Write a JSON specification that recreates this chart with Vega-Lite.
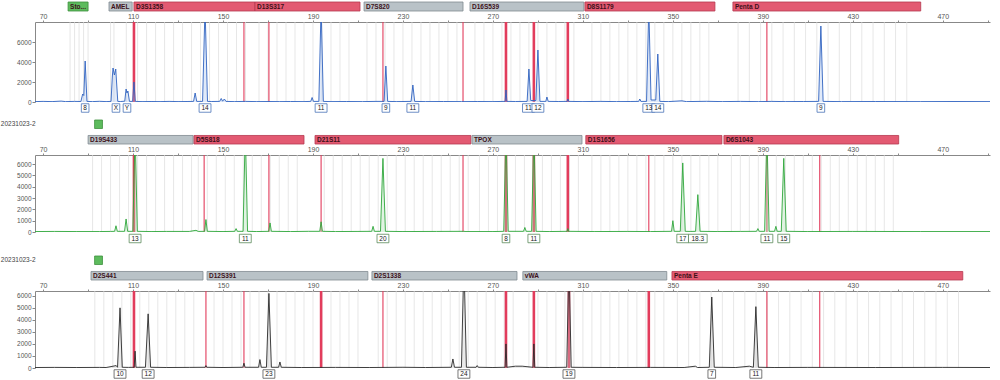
{
"$schema":"https://vega.github.io/schema/vega-lite/v6.json",
"background":"white",
"padding":{"left":0,"top":1,"right":4,"bottom":0},
"config":{"view":{"stroke":null},"font":"Liberation Sans"},
"datasets":{
"loci":[
{"p":1,"row":"l","kind":"green","name":"Sto...","start":81.1,"end":90.0},
{"p":1,"row":"l","kind":"grey","name":"AMEL","start":99.3,"end":109.6},
{"p":1,"row":"l","kind":"red","name":"D3S1358","start":110.4,"end":164.2},
{"p":1,"row":"l","kind":"red","name":"D13S317","start":164.2,"end":210.9},
{"p":1,"row":"l","kind":"grey","name":"D7S820","start":212.7,"end":256.7},
{"p":1,"row":"l","kind":"grey","name":"D16S539","start":259.8,"end":310.4},
{"p":1,"row":"l","kind":"red","name":"D8S1179","start":310.9,"end":368.7},
{"p":1,"row":"l","kind":"red","name":"Penta D","start":376.7,"end":460.2},
{"p":2,"row":"s","kind":"green","name":"","start":92.9,"end":96.4},
{"p":2,"row":"l","kind":"grey","name":"D19S433","start":90.0,"end":136.7},
{"p":2,"row":"l","kind":"red","name":"D5S818","start":137.1,"end":186.0},
{"p":2,"row":"l","kind":"red","name":"D21S11","start":190.9,"end":260.2},
{"p":2,"row":"l","kind":"grey","name":"TPOX","start":260.7,"end":309.6},
{"p":2,"row":"l","kind":"red","name":"D1S1656","start":311.3,"end":371.8},
{"p":2,"row":"l","kind":"red","name":"D6S1043","start":372.7,"end":450.4},
{"p":3,"row":"s","kind":"green","name":"","start":92.9,"end":96.4},
{"p":3,"row":"l","kind":"grey","name":"D2S441","start":91.3,"end":141.1},
{"p":3,"row":"l","kind":"grey","name":"D12S391","start":142.9,"end":214.4},
{"p":3,"row":"l","kind":"grey","name":"D2S1338","start":216.2,"end":280.7},
{"p":3,"row":"l","kind":"grey","name":"vWA","start":283.3,"end":347.3},
{"p":3,"row":"l","kind":"red","name":"Penta E","start":349.6,"end":478.9}
],
"samples":[
{"p":2,"row":"s","x":51.2,"t":"20231023-2"},
{"p":3,"row":"s","x":51.2,"t":"20231023-2"}
],
"red":[
{"p":1,"x":110.4,"k":"thick"},{"p":1,"x":275.8,"k":"thick"},{"p":1,"x":288.2,"k":"thick"},{"p":1,"x":303.3,"k":"thick"},
{"p":1,"x":159.3,"k":"thin"},{"p":1,"x":170.4,"k":"thin"},{"p":1,"x":221.1,"k":"thin"},{"p":1,"x":256.7,"k":"thin"},{"p":1,"x":391.8,"k":"thin"},
{"p":2,"x":110.4,"k":"thick"},{"p":2,"x":275.8,"k":"thick"},{"p":2,"x":288.2,"k":"thick"},{"p":2,"x":303.3,"k":"thick"},
{"p":2,"x":141.6,"k":"thin"},{"p":2,"x":170.4,"k":"thin"},{"p":2,"x":193.6,"k":"thin"},{"p":2,"x":256.7,"k":"thin"},{"p":2,"x":339.3,"k":"thin"},{"p":2,"x":391.8,"k":"thin"},{"p":2,"x":415.3,"k":"thin"},
{"p":3,"x":110.4,"k":"thick"},{"p":3,"x":193.6,"k":"thick"},{"p":3,"x":275.8,"k":"thick"},{"p":3,"x":288.2,"k":"thick"},{"p":3,"x":303.8,"k":"thick"},{"p":3,"x":339.3,"k":"thick"},
{"p":3,"x":142.4,"k":"thin"},{"p":3,"x":159.3,"k":"thin"},{"p":3,"x":221.1,"k":"thin"},{"p":3,"x":391.8,"k":"thin"},{"p":3,"x":415.3,"k":"thin"}
],
"bins":[
{"p":1,"x":82},{"p":1,"x":84},{"p":1,"x":86},{"p":1,"x":88},{"p":1,"x":90},{"p":1,"x":100},{"p":1,"x":101.5},{"p":1,"x":107},
{"p":1,"x":112},{"p":1,"x":116},{"p":1,"x":120},{"p":1,"x":124},{"p":1,"x":128},{"p":1,"x":132},{"p":1,"x":136},{"p":1,"x":140},{"p":1,"x":144},{"p":1,"x":148},{"p":1,"x":152},{"p":1,"x":156},{"p":1,"x":160},
{"p":1,"x":166},{"p":1,"x":170},{"p":1,"x":174},{"p":1,"x":178},{"p":1,"x":182},{"p":1,"x":186},{"p":1,"x":190},{"p":1,"x":194},{"p":1,"x":198},{"p":1,"x":202},{"p":1,"x":206},
{"p":1,"x":214},{"p":1,"x":218},{"p":1,"x":222},{"p":1,"x":226},{"p":1,"x":230},{"p":1,"x":234},{"p":1,"x":238},{"p":1,"x":242},{"p":1,"x":246},{"p":1,"x":250},{"p":1,"x":254},
{"p":1,"x":262},{"p":1,"x":266},{"p":1,"x":270},{"p":1,"x":274},{"p":1,"x":278},{"p":1,"x":282},{"p":1,"x":286},{"p":1,"x":290},{"p":1,"x":294},{"p":1,"x":298},{"p":1,"x":302},{"p":1,"x":306},
{"p":1,"x":314},{"p":1,"x":318},{"p":1,"x":322},{"p":1,"x":326},{"p":1,"x":330},{"p":1,"x":334},{"p":1,"x":338},{"p":1,"x":342},{"p":1,"x":346},{"p":1,"x":350},{"p":1,"x":354},{"p":1,"x":358},{"p":1,"x":362},{"p":1,"x":366},
{"p":1,"x":379},{"p":1,"x":384},{"p":1,"x":389},{"p":1,"x":394},{"p":1,"x":399},{"p":1,"x":404},{"p":1,"x":409},{"p":1,"x":414},{"p":1,"x":419},{"p":1,"x":424},{"p":1,"x":429},{"p":1,"x":434},{"p":1,"x":439},{"p":1,"x":444},{"p":1,"x":449},{"p":1,"x":454},
{"p":2,"x":92},{"p":2,"x":96},{"p":2,"x":100},{"p":2,"x":104},{"p":2,"x":108},{"p":2,"x":112},{"p":2,"x":116},{"p":2,"x":120},{"p":2,"x":124},{"p":2,"x":128},{"p":2,"x":132},{"p":2,"x":136},
{"p":2,"x":139},{"p":2,"x":143},{"p":2,"x":147},{"p":2,"x":151},{"p":2,"x":155},{"p":2,"x":159},{"p":2,"x":163},{"p":2,"x":167},{"p":2,"x":171},{"p":2,"x":175},{"p":2,"x":179},{"p":2,"x":183},
{"p":2,"x":195},{"p":2,"x":199},{"p":2,"x":203},{"p":2,"x":207},{"p":2,"x":211},{"p":2,"x":215},{"p":2,"x":219},{"p":2,"x":223},{"p":2,"x":227},{"p":2,"x":231},{"p":2,"x":235},{"p":2,"x":239},{"p":2,"x":243},{"p":2,"x":247},{"p":2,"x":251},{"p":2,"x":255},{"p":2,"x":259},
{"p":2,"x":264},{"p":2,"x":268},{"p":2,"x":272},{"p":2,"x":276},{"p":2,"x":280},{"p":2,"x":284},{"p":2,"x":288},{"p":2,"x":292},{"p":2,"x":296},{"p":2,"x":300},{"p":2,"x":304},{"p":2,"x":308},
{"p":2,"x":314},{"p":2,"x":318},{"p":2,"x":322},{"p":2,"x":326},{"p":2,"x":330},{"p":2,"x":334},{"p":2,"x":338},{"p":2,"x":342},{"p":2,"x":346},{"p":2,"x":350},{"p":2,"x":354},{"p":2,"x":358},{"p":2,"x":362},{"p":2,"x":366},{"p":2,"x":370},
{"p":2,"x":376},{"p":2,"x":380},{"p":2,"x":384},{"p":2,"x":388},{"p":2,"x":392},{"p":2,"x":396},{"p":2,"x":400},{"p":2,"x":404},{"p":2,"x":408},{"p":2,"x":412},{"p":2,"x":416},{"p":2,"x":420},{"p":2,"x":424},{"p":2,"x":428},{"p":2,"x":432},{"p":2,"x":436},{"p":2,"x":440},{"p":2,"x":444},{"p":2,"x":448},
{"p":3,"x":93},{"p":3,"x":97},{"p":3,"x":101},{"p":3,"x":105},{"p":3,"x":109},{"p":3,"x":113},{"p":3,"x":117},{"p":3,"x":121},{"p":3,"x":125},{"p":3,"x":129},{"p":3,"x":133},{"p":3,"x":137},
{"p":3,"x":146},{"p":3,"x":150},{"p":3,"x":154},{"p":3,"x":158},{"p":3,"x":162},{"p":3,"x":166},{"p":3,"x":170},{"p":3,"x":174},{"p":3,"x":178},{"p":3,"x":182},{"p":3,"x":186},{"p":3,"x":190},{"p":3,"x":194},{"p":3,"x":198},{"p":3,"x":202},{"p":3,"x":206},{"p":3,"x":210},
{"p":3,"x":219},{"p":3,"x":223},{"p":3,"x":227},{"p":3,"x":231},{"p":3,"x":235},{"p":3,"x":239},{"p":3,"x":243},{"p":3,"x":247},{"p":3,"x":251},{"p":3,"x":255},{"p":3,"x":259},{"p":3,"x":263},{"p":3,"x":267},{"p":3,"x":271},{"p":3,"x":275},{"p":3,"x":279},
{"p":3,"x":286},{"p":3,"x":290},{"p":3,"x":294},{"p":3,"x":298},{"p":3,"x":302},{"p":3,"x":306},{"p":3,"x":310},{"p":3,"x":314},{"p":3,"x":318},{"p":3,"x":322},{"p":3,"x":326},{"p":3,"x":330},{"p":3,"x":334},{"p":3,"x":338},{"p":3,"x":342},{"p":3,"x":346},
{"p":3,"x":352},{"p":3,"x":357},{"p":3,"x":362},{"p":3,"x":367},{"p":3,"x":372},{"p":3,"x":377},{"p":3,"x":382},{"p":3,"x":387},{"p":3,"x":392},{"p":3,"x":397},{"p":3,"x":402},{"p":3,"x":407},{"p":3,"x":412},{"p":3,"x":417},{"p":3,"x":422},{"p":3,"x":427},{"p":3,"x":432},{"p":3,"x":437},{"p":3,"x":442},{"p":3,"x":447},{"p":3,"x":452},{"p":3,"x":457},{"p":3,"x":462},{"p":3,"x":467},{"p":3,"x":472},{"p":3,"x":477}
],
"t1":[
{"x":66.4,"y":40},{"x":70,"y":60},{"x":74,"y":40},{"x":78,"y":90},{"x":80,"y":40},{"x":84,"y":60},{"x":86.8,"y":50},{"x":87.6,"y":800},{"x":88.1,"y":650},{"x":88.7,"y":4100},{"x":89.5,"y":60},{"x":92,"y":40},{"x":95,"y":70},{"x":98,"y":40},
{"x":100.2,"y":60},{"x":100.8,"y":2600},{"x":101.1,"y":3400},{"x":101.7,"y":2700},{"x":102.3,"y":3300},{"x":103.2,"y":60},{"x":104.5,"y":50},{"x":106.3,"y":80},{"x":106.9,"y":1300},{"x":107.3,"y":900},{"x":107.7,"y":1100},{"x":108.4,"y":60},
{"x":109.8,"y":60},{"x":110.4,"y":2000},{"x":111.0,"y":60},{"x":114,"y":40},{"x":118,"y":50},{"x":122,"y":40},{"x":126,"y":60},{"x":130,"y":40},{"x":134,"y":50},{"x":136.9,"y":60},{"x":137.6,"y":900},{"x":138.3,"y":60},
{"x":140.9,"y":60},{"x":142.0,"y":9500},{"x":143.1,"y":60},{"x":145,"y":50},{"x":148.5,"y":60},{"x":149.2,"y":350},{"x":149.8,"y":80},{"x":150.6,"y":300},{"x":151.3,"y":60},{"x":155,"y":40},{"x":160,"y":60},{"x":165,"y":40},{"x":170,"y":50},{"x":175,"y":40},{"x":180,"y":50},{"x":186,"y":40},
{"x":189,"y":60},{"x":189.6,"y":450},{"x":190.2,"y":60},{"x":192.6,"y":60},{"x":193.6,"y":9500},{"x":194.6,"y":60},{"x":198,"y":40},{"x":205,"y":50},{"x":212,"y":40},{"x":218,"y":60},
{"x":221.6,"y":60},{"x":222.4,"y":3600},{"x":223.2,"y":60},{"x":227,"y":40},{"x":233.6,"y":60},{"x":234.4,"y":1700},{"x":235.2,"y":60},{"x":240,"y":40},{"x":248,"y":50},{"x":256,"y":40},{"x":263,"y":50},{"x":270,"y":40},
{"x":275.4,"y":60},{"x":275.8,"y":1200},{"x":276.2,"y":60},{"x":280,"y":50},{"x":285.2,"y":60},{"x":286.0,"y":3300},{"x":286.8,"y":150},{"x":289.1,"y":150},{"x":290.0,"y":5200},{"x":290.9,"y":60},{"x":293.5,"y":60},{"x":294.0,"y":500},{"x":294.6,"y":60},
{"x":299,"y":50},{"x":303.0,"y":60},{"x":303.3,"y":300},{"x":303.7,"y":60},{"x":310,"y":40},{"x":318,"y":60},{"x":325,"y":40},{"x":331,"y":50},{"x":334.8,"y":60},{"x":335.3,"y":300},{"x":335.8,"y":60},
{"x":338.3,"y":60},{"x":339.3,"y":9500},{"x":340.3,"y":200},{"x":342.4,"y":200},{"x":343.3,"y":4800},{"x":344.2,"y":60},{"x":348,"y":40},{"x":354,"y":120},{"x":356,"y":40},{"x":365,"y":70},{"x":372,"y":40},{"x":380,"y":60},{"x":388,"y":40},{"x":394,"y":60},{"x":400,"y":40},{"x":408,"y":50},
{"x":414.8,"y":60},{"x":415.8,"y":7600},{"x":416.8,"y":60},{"x":425,"y":40},{"x":440,"y":50},{"x":460,"y":40},{"x":475,"y":50},{"x":491,"y":40}
],
"t2":[
{"x":66.4,"y":40},{"x":75,"y":50},{"x":85,"y":40},{"x":95,"y":40},{"x":100,"y":50},{"x":101.8,"y":60},{"x":102.4,"y":550},{"x":103.0,"y":60},{"x":106.2,"y":60},{"x":106.9,"y":1150},{"x":107.6,"y":60},
{"x":109.9,"y":60},{"x":110.9,"y":9000},{"x":111.9,"y":60},{"x":118,"y":40},{"x":125,"y":50},{"x":135,"y":50},{"x":138,"y":150},{"x":139,"y":50},{"x":141.8,"y":60},{"x":142.4,"y":1100},{"x":143.0,"y":60},
{"x":150,"y":40},{"x":155.2,"y":60},{"x":155.8,"y":300},{"x":156.4,"y":60},{"x":158.9,"y":60},{"x":159.9,"y":9000},{"x":160.9,"y":60},{"x":165,"y":40},{"x":170.3,"y":60},{"x":170.9,"y":800},{"x":171.5,"y":60},
{"x":180,"y":40},{"x":188,"y":60},{"x":193.0,"y":60},{"x":193.6,"y":900},{"x":194.2,"y":60},{"x":200,"y":40},{"x":210,"y":50},{"x":216.1,"y":60},{"x":216.7,"y":500},{"x":217.3,"y":60},{"x":220.0,"y":60},{"x":221.1,"y":6500},{"x":222.2,"y":60},
{"x":230,"y":40},{"x":245,"y":50},{"x":257,"y":60},{"x":258,"y":40},{"x":270,"y":40},{"x":274.8,"y":60},{"x":275.8,"y":9000},{"x":276.8,"y":60},{"x":283.6,"y":60},{"x":284.2,"y":400},{"x":284.8,"y":60},
{"x":287.2,"y":60},{"x":288.2,"y":9000},{"x":289.2,"y":60},{"x":295,"y":40},{"x":303,"y":60},{"x":303.3,"y":300},{"x":303.6,"y":60},{"x":315,"y":40},{"x":330,"y":50},{"x":340,"y":40},
{"x":349.4,"y":60},{"x":350.0,"y":1000},{"x":350.6,"y":60},{"x":353.3,"y":60},{"x":354.4,"y":6100},{"x":355.5,"y":60},{"x":358,"y":50},{"x":360.1,"y":60},{"x":361.1,"y":3300},{"x":362.1,"y":60},
{"x":370,"y":40},{"x":380,"y":50},{"x":387.2,"y":60},{"x":387.8,"y":300},{"x":388.4,"y":60},{"x":390.8,"y":60},{"x":391.8,"y":9000},{"x":392.8,"y":60},{"x":395.2,"y":60},{"x":395.8,"y":500},{"x":396.4,"y":60},
{"x":398.2,"y":60},{"x":399.3,"y":6500},{"x":400.4,"y":60},{"x":410,"y":40},{"x":430,"y":50},{"x":460,"y":40},{"x":491,"y":40}
],
"t3":[
{"x":66.4,"y":40},{"x":75,"y":50},{"x":85,"y":40},{"x":95,"y":50},{"x":98,"y":40},{"x":102.5,"y":200},{"x":103.1,"y":60},{"x":104.2,"y":5000},{"x":105.2,"y":60},{"x":108,"y":50},
{"x":110.5,"y":60},{"x":110.9,"y":1400},{"x":111.3,"y":60},{"x":115.5,"y":60},{"x":116.7,"y":4500},{"x":117.8,"y":60},{"x":125,"y":40},{"x":135,"y":50},{"x":142.0,"y":60},{"x":142.4,"y":200},{"x":142.8,"y":60},
{"x":150,"y":40},{"x":158.8,"y":60},{"x":159.3,"y":400},{"x":159.8,"y":60},{"x":165.8,"y":60},{"x":166.4,"y":700},{"x":167.0,"y":60},{"x":169.3,"y":60},{"x":170.4,"y":6200},{"x":171.5,"y":60},{"x":174.7,"y":60},{"x":175.3,"y":500},{"x":175.9,"y":60},
{"x":185,"y":40},{"x":200,"y":50},{"x":215,"y":40},{"x":230,"y":60},{"x":240,"y":40},{"x":251.5,"y":60},{"x":252.2,"y":750},{"x":252.9,"y":60},{"x":256.0,"y":60},{"x":257.1,"y":9000},{"x":258.2,"y":60},
{"x":262.5,"y":60},{"x":263,"y":200},{"x":263.5,"y":60},{"x":270,"y":40},{"x":275.4,"y":60},{"x":275.8,"y":2000},{"x":276.2,"y":60},{"x":280,"y":150},{"x":283,"y":150},{"x":287.8,"y":60},{"x":288.2,"y":2000},{"x":288.6,"y":60},
{"x":295,"y":40},{"x":302.8,"y":60},{"x":303.8,"y":9000},{"x":304.8,"y":60},{"x":310,"y":50},{"x":325,"y":40},{"x":340,"y":50},{"x":355,"y":40},{"x":360,"y":150},{"x":361,"y":40},
{"x":366.2,"y":60},{"x":367.3,"y":5900},{"x":368.4,"y":60},{"x":378,"y":40},{"x":384,"y":150},{"x":385.8,"y":60},{"x":386.9,"y":5100},{"x":388.0,"y":60},{"x":395,"y":40},{"x":410,"y":50},{"x":440,"y":40},{"x":470,"y":50},{"x":491,"y":40}
],
"alleles":[
{"p":1,"x":88.7,"a":"8"},{"p":1,"x":102.4,"a":"X"},{"p":1,"x":107.3,"a":"Y"},{"p":1,"x":142.0,"a":"14"},{"p":1,"x":193.6,"a":"11"},{"p":1,"x":222.4,"a":"9"},{"p":1,"x":234.4,"a":"11"},{"p":1,"x":285.8,"a":"11"},{"p":1,"x":290.0,"a":"12"},{"p":1,"x":339.3,"a":"13"},{"p":1,"x":343.3,"a":"14"},{"p":1,"x":415.8,"a":"9"},
{"p":2,"x":110.9,"a":"13"},{"p":2,"x":159.9,"a":"11"},{"p":2,"x":221.1,"a":"20"},{"p":2,"x":275.8,"a":"8"},{"p":2,"x":288.2,"a":"11"},{"p":2,"x":354.4,"a":"17"},{"p":2,"x":361.1,"a":"18.3"},{"p":2,"x":391.8,"a":"11"},{"p":2,"x":399.3,"a":"15"},
{"p":3,"x":104.2,"a":"10"},{"p":3,"x":116.7,"a":"12"},{"p":3,"x":170.4,"a":"23"},{"p":3,"x":257.1,"a":"24"},{"p":3,"x":303.8,"a":"19"},{"p":3,"x":367.3,"a":"7"},{"p":3,"x":386.9,"a":"11"}
]
},
"spacing":5,
"vconcat":[
{"spacing":0,"vconcat":[
{"width":955,"height":9,"layer":[
{"data":{"name":"loci"},"transform":[{"filter":"datum.p==1"}],"mark":{"type":"rect","strokeWidth":0.8},
"encoding":{"x":{"field":"start","type":"quantitative","scale":{"domain":[66.4,491],"nice":false,"zero":false},"axis":null},"x2":{"field":"end"},
"y":{"field":"row","type":"nominal","scale":{"domain":["l"],"paddingInner":0,"paddingOuter":0},"axis":null},
"fill":{"field":"kind","type":"nominal","scale":{"domain":["red","grey","green"],"range":["#e35a72","#b9c2c7","#5dbb5d"]},"legend":null},
"stroke":{"field":"kind","type":"nominal","scale":{"domain":["red","grey","green"],"range":["#b5384f","#808a90","#3d913d"]},"legend":null}}},
{"data":{"name":"loci"},"transform":[{"filter":"datum.p==1 && datum.name != ''"}],"mark":{"type":"text","align":"left","baseline":"middle","dx":2,"fontSize":6.5,"fontWeight":"bold","color":"#3d1119"},
"encoding":{"x":{"field":"start","type":"quantitative"},"y":{"field":"row","type":"nominal"},"text":{"field":"name"}}}
]},
{"width":955,"height":80,"layer":[
{"data":{"name":"bins"},"transform":[{"filter":"datum.p==1"}],"mark":{"type":"rule","color":"#dddddd","strokeWidth":0.7},
"encoding":{"x":{"field":"x","type":"quantitative","scale":{"domain":[66.4,491],"nice":false,"zero":false},
"axis":{"orient":"top","values":[70,90,110,130,150,170,190,210,230,250,270,290,310,330,350,370,390,410,430,450,470,490],"tickCount":40,"labelExpr":"datum.value % 40 == 30 ? datum.label : ''","labelOverlap":false,"title":null,"grid":false,"tickSize":2,"labelFontSize":7,"labelPadding":1,"domainColor":"#888","tickColor":"#888","labelColor":"#555"}}}},
{"data":{"name":"red"},"transform":[{"filter":"datum.p==1"}],"mark":{"type":"rule","color":"#e23c5c"},
"encoding":{"x":{"field":"x","type":"quantitative"},"strokeWidth":{"field":"k","type":"nominal","scale":{"domain":["thick","thin"],"range":[2.6,1.1]},"legend":null}}},
{"data":{"name":"t1"},"mark":{"type":"area","color":"#a9c4ee","opacity":0.35,"clip":true},
"encoding":{"x":{"field":"x","type":"quantitative"},"y":{"field":"y","type":"quantitative","scale":{"domain":[0,8000],"nice":false},
"axis":{"values":[0,2000,4000,6000],"tickCount":20,"format":"d","labelOverlap":false,"title":null,"grid":false,"tickSize":3,"labelFontSize":6.5,"labelPadding":1,"labelColor":"#555","domainColor":"#888","tickColor":"#888"}}}},
{"data":{"name":"t1"},"mark":{"type":"line","color":"#2f62c0","strokeWidth":0.9,"clip":true},
"encoding":{"x":{"field":"x","type":"quantitative"},"y":{"field":"y","type":"quantitative"}}},
{"data":{"name":"alleles"},"transform":[{"filter":"datum.p==1"}],"mark":{"type":"point","filled":true,"fill":"white","stroke":"#4a74b8","strokeWidth":0.8,"opacity":1,"size":72,"yOffset":6},
"encoding":{"x":{"field":"x","type":"quantitative"},"y":{"datum":0,"type":"quantitative"},
"shape":{"condition":[{"test":"length(datum.a)>2","value":"M-2.2,-1H2.2V1H-2.2Z"},{"test":"length(datum.a)==2","value":"M-1.4,-1H1.4V1H-1.4Z"}],"value":"M-0.9,-1H0.9V1H-0.9Z"}}},
{"data":{"name":"alleles"},"transform":[{"filter":"datum.p==1"}],"mark":{"type":"text","fontSize":6.5,"color":"#222","baseline":"middle","dy":6},
"encoding":{"x":{"field":"x","type":"quantitative"},"y":{"datum":0,"type":"quantitative"},"text":{"field":"a"}}}
]}
]},
{"spacing":10,"vconcat":[
{"spacing":0,"vconcat":[
{"width":955,"height":24,"layer":[
{"data":{"name":"loci"},"transform":[{"filter":"datum.p==2"}],"mark":{"type":"rect","strokeWidth":0.8},
"encoding":{"x":{"field":"start","type":"quantitative","scale":{"domain":[66.4,491],"nice":false,"zero":false},"axis":null},"x2":{"field":"end"},
"y":{"field":"row","type":"nominal","scale":{"domain":["s","l"],"paddingInner":0.45,"paddingOuter":0},"axis":null},
"fill":{"field":"kind","type":"nominal","scale":{"domain":["red","grey","green"],"range":["#e35a72","#b9c2c7","#5dbb5d"]},"legend":null},
"stroke":{"field":"kind","type":"nominal","scale":{"domain":["red","grey","green"],"range":["#b5384f","#808a90","#3d913d"]},"legend":null}}},
{"data":{"name":"loci"},"transform":[{"filter":"datum.p==2 && datum.name != ''"}],"mark":{"type":"text","align":"left","baseline":"middle","dx":2,"fontSize":6.5,"fontWeight":"bold","color":"#3d1119"},
"encoding":{"x":{"field":"start","type":"quantitative"},"y":{"field":"row","type":"nominal"},"text":{"field":"name"}}},
{"data":{"name":"samples"},"transform":[{"filter":"datum.p==2"}],"mark":{"type":"text","align":"left","baseline":"middle","fontSize":6.5,"color":"#444"},
"encoding":{"x":{"field":"x","type":"quantitative"},"y":{"field":"row","type":"nominal"},"text":{"field":"t"}}}
]},
{"width":955,"height":77,"layer":[
{"data":{"name":"bins"},"transform":[{"filter":"datum.p==2"}],"mark":{"type":"rule","color":"#dddddd","strokeWidth":0.7},
"encoding":{"x":{"field":"x","type":"quantitative","scale":{"domain":[66.4,491],"nice":false,"zero":false},
"axis":{"orient":"top","values":[70,90,110,130,150,170,190,210,230,250,270,290,310,330,350,370,390,410,430,450,470,490],"tickCount":40,"labelExpr":"datum.value % 40 == 30 ? datum.label : ''","labelOverlap":false,"title":null,"grid":false,"tickSize":2,"labelFontSize":7,"labelPadding":1,"domainColor":"#888","tickColor":"#888","labelColor":"#555"}}}},
{"data":{"name":"red"},"transform":[{"filter":"datum.p==2"}],"mark":{"type":"rule","color":"#e23c5c"},
"encoding":{"x":{"field":"x","type":"quantitative"},"strokeWidth":{"field":"k","type":"nominal","scale":{"domain":["thick","thin"],"range":[2.6,1.1]},"legend":null}}},
{"data":{"name":"t2"},"mark":{"type":"area","color":"#a8dcae","opacity":0.35,"clip":true},
"encoding":{"x":{"field":"x","type":"quantitative"},"y":{"field":"y","type":"quantitative","scale":{"domain":[0,6800],"nice":false},
"axis":{"values":[0,1000,2000,3000,4000,5000,6000],"tickCount":20,"format":"d","labelOverlap":false,"title":null,"grid":false,"tickSize":3,"labelFontSize":6.5,"labelPadding":1,"labelColor":"#555","domainColor":"#888","tickColor":"#888"}}}},
{"data":{"name":"t2"},"mark":{"type":"line","color":"#2ea63a","strokeWidth":0.9,"clip":true},
"encoding":{"x":{"field":"x","type":"quantitative"},"y":{"field":"y","type":"quantitative"}}},
{"data":{"name":"alleles"},"transform":[{"filter":"datum.p==2"}],"mark":{"type":"point","filled":true,"fill":"white","stroke":"#5a8a5a","strokeWidth":0.8,"opacity":1,"size":72,"yOffset":6.5},
"encoding":{"x":{"field":"x","type":"quantitative"},"y":{"datum":0,"type":"quantitative"},
"shape":{"condition":[{"test":"length(datum.a)>2","value":"M-2.2,-1H2.2V1H-2.2Z"},{"test":"length(datum.a)==2","value":"M-1.4,-1H1.4V1H-1.4Z"}],"value":"M-0.9,-1H0.9V1H-0.9Z"}}},
{"data":{"name":"alleles"},"transform":[{"filter":"datum.p==2"}],"mark":{"type":"text","fontSize":6.5,"color":"#222","baseline":"middle","dy":6.5},
"encoding":{"x":{"field":"x","type":"quantitative"},"y":{"datum":0,"type":"quantitative"},"text":{"field":"a"}}}
]}
]},
{"spacing":0,"vconcat":[
{"width":955,"height":24,"layer":[
{"data":{"name":"loci"},"transform":[{"filter":"datum.p==3"}],"mark":{"type":"rect","strokeWidth":0.8},
"encoding":{"x":{"field":"start","type":"quantitative","scale":{"domain":[66.4,491],"nice":false,"zero":false},"axis":null},"x2":{"field":"end"},
"y":{"field":"row","type":"nominal","scale":{"domain":["s","l"],"paddingInner":0.45,"paddingOuter":0},"axis":null},
"fill":{"field":"kind","type":"nominal","scale":{"domain":["red","grey","green"],"range":["#e35a72","#b9c2c7","#5dbb5d"]},"legend":null},
"stroke":{"field":"kind","type":"nominal","scale":{"domain":["red","grey","green"],"range":["#b5384f","#808a90","#3d913d"]},"legend":null}}},
{"data":{"name":"loci"},"transform":[{"filter":"datum.p==3 && datum.name != ''"}],"mark":{"type":"text","align":"left","baseline":"middle","dx":2,"fontSize":6.5,"fontWeight":"bold","color":"#3d1119"},
"encoding":{"x":{"field":"start","type":"quantitative"},"y":{"field":"row","type":"nominal"},"text":{"field":"name"}}},
{"data":{"name":"samples"},"transform":[{"filter":"datum.p==3"}],"mark":{"type":"text","align":"left","baseline":"middle","fontSize":6.5,"color":"#444"},
"encoding":{"x":{"field":"x","type":"quantitative"},"y":{"field":"row","type":"nominal"},"text":{"field":"t"}}}
]},
{"width":955,"height":77,"layer":[
{"data":{"name":"bins"},"transform":[{"filter":"datum.p==3"}],"mark":{"type":"rule","color":"#dddddd","strokeWidth":0.7},
"encoding":{"x":{"field":"x","type":"quantitative","scale":{"domain":[66.4,491],"nice":false,"zero":false},
"axis":{"orient":"top","values":[70,90,110,130,150,170,190,210,230,250,270,290,310,330,350,370,390,410,430,450,470,490],"tickCount":40,"labelExpr":"datum.value % 40 == 30 ? datum.label : ''","labelOverlap":false,"title":null,"grid":false,"tickSize":2,"labelFontSize":7,"labelPadding":1,"domainColor":"#888","tickColor":"#888","labelColor":"#555"}}}},
{"data":{"name":"red"},"transform":[{"filter":"datum.p==3"}],"mark":{"type":"rule","color":"#e23c5c"},
"encoding":{"x":{"field":"x","type":"quantitative"},"strokeWidth":{"field":"k","type":"nominal","scale":{"domain":["thick","thin"],"range":[2.6,1.1]},"legend":null}}},
{"data":{"name":"t3"},"mark":{"type":"area","color":"#c4c4c4","opacity":0.35,"clip":true},
"encoding":{"x":{"field":"x","type":"quantitative"},"y":{"field":"y","type":"quantitative","scale":{"domain":[0,6400],"nice":false},
"axis":{"values":[0,1000,2000,3000,4000,5000,6000],"tickCount":20,"format":"d","labelOverlap":false,"title":null,"grid":false,"tickSize":3,"labelFontSize":6.5,"labelPadding":1,"labelColor":"#555","domainColor":"#888","tickColor":"#888"}}}},
{"data":{"name":"t3"},"mark":{"type":"line","color":"#2a2a2a","strokeWidth":0.9,"clip":true},
"encoding":{"x":{"field":"x","type":"quantitative"},"y":{"field":"y","type":"quantitative"}}},
{"data":{"name":"alleles"},"transform":[{"filter":"datum.p==3"}],"mark":{"type":"point","filled":true,"fill":"white","stroke":"#555555","strokeWidth":0.8,"opacity":1,"size":72,"yOffset":6},
"encoding":{"x":{"field":"x","type":"quantitative"},"y":{"datum":0,"type":"quantitative"},
"shape":{"condition":[{"test":"length(datum.a)>2","value":"M-2.2,-1H2.2V1H-2.2Z"},{"test":"length(datum.a)==2","value":"M-1.4,-1H1.4V1H-1.4Z"}],"value":"M-0.9,-1H0.9V1H-0.9Z"}}},
{"data":{"name":"alleles"},"transform":[{"filter":"datum.p==3"}],"mark":{"type":"text","fontSize":6.5,"color":"#222","baseline":"middle","dy":6},
"encoding":{"x":{"field":"x","type":"quantitative"},"y":{"datum":0,"type":"quantitative"},"text":{"field":"a"}}}
]}
]}
]}
]
}
